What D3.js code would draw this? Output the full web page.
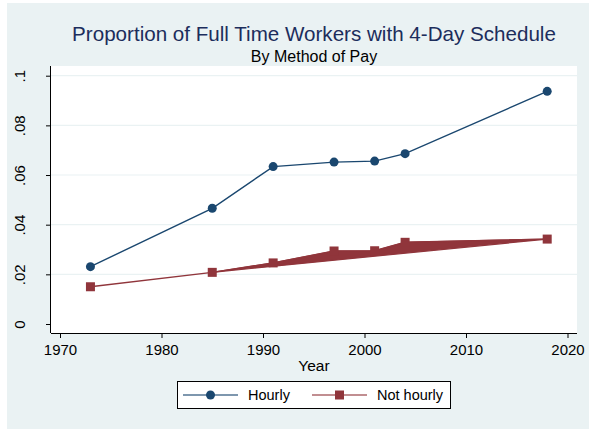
<!DOCTYPE html>
<html>
<head>
<meta charset="utf-8">
<script src="https://cdn.jsdelivr.net/npm/d3@7"></script>
<style>
  body { margin: 0; background: #fff; }
  text { font-family: "Liberation Sans", Arial, sans-serif; }
</style>
</head>
<body>
<svg id="chart"></svg>
<script>
let years = [1973, 1985, 1991, 1997, 2001, 2004, 2018];
let hourly = [0.0231, 0.0466, 0.0634, 0.0652, 0.0656, 0.0686, 0.0937];
let notHourly = [0.0150, 0.0208, 0.0246, 0.0294, 0.0295, 0.0329, 0.0342];
let xTicks = [1970, 1980, 1990, 2000, 2010, 2020];
let yTicks = [0, 0.02, 0.04, 0.06, 0.08, 0.1];
let yTickLabels = ["0", ".02", ".04", ".06", ".08", ".1"];
let seriesNames = ["Hourly", "Not hourly"];

let width = 589;
let height = 429;
let svg = d3.select("#chart").attr("width", width).attr("height", height);

// graph region
svg.append("rect").attr("x", 7).attr("y", 3).attr("width", width - 7).attr("height", height - 3)
  .attr("fill", "#eaf2f3");

let plotL = 51, plotR = 577, plotT = 66, plotB = 333;
svg.append("rect").attr("x", plotL).attr("y", plotT).attr("width", plotR - plotL).attr("height", plotB - plotT)
  .attr("fill", "#ffffff");

let x = d3.scaleLinear().domain([1970, 2020]).range([60, 567.5]);
let y = d3.scaleLinear().domain([0, 0.1]).range([324, 75.7]);

// gridlines
svg.append("g").selectAll("line")
  .data(yTicks.filter(d => d > 0))
  .enter().append("line")
  .attr("x1", plotL).attr("x2", plotR)
  .attr("y1", d => y(d)).attr("y2", d => y(d))
  .attr("stroke", "#eaf2f3").attr("stroke-width", 1.2);

// axes
let xAxis = svg.append("g").attr("transform", "translate(0," + plotB + ")")
  .call(d3.axisBottom(x).tickValues(xTicks).tickFormat(d3.format("d")).tickSize(5).tickSizeOuter(0));
xAxis.select(".domain").attr("d", "M" + plotL + ",0.5H" + plotR).attr("stroke", "#000");
xAxis.selectAll(".tick text").attr("font-size", 15).attr("y", 9).attr("dy", "0.85em").attr("fill", "#000");

let yAxis = svg.append("g").attr("transform", "translate(" + plotL + ",0)")
  .call(d3.axisLeft(y).tickValues(yTicks).tickFormat((d, i) => yTickLabels[i]).tickSize(5).tickSizeOuter(0));
yAxis.select(".domain").attr("d", "M-0.5," + plotT + "V" + plotB).attr("stroke", "#000");
yAxis.selectAll(".tick text")
  .attr("font-size", 15).attr("fill", "#000")
  .attr("x", null).attr("dy", null)
  .attr("text-anchor", "middle")
  .attr("transform", "translate(-26,0) rotate(-90)");

svg.append("text").attr("x", (plotL + plotR) / 2).attr("y", 371)
  .attr("text-anchor", "middle").attr("font-size", 15.5).attr("fill", "#000").text("Year");

// titles
svg.append("text").attr("x", (plotL + plotR) / 2).attr("y", 41)
  .attr("text-anchor", "middle").attr("font-size", 20.6).attr("fill", "#1c2d5c")
  .text("Proportion of Full Time Workers with 4-Day Schedule");
svg.append("text").attr("x", (plotL + plotR) / 2).attr("y", 62)
  .attr("text-anchor", "middle").attr("font-size", 16).attr("fill", "#000")
  .text("By Method of Pay");

let blue = "#1a476f", red = "#90353b";
let line = d3.line().x(d => x(d[0])).y(d => y(d[1]));

let hPts = years.map((yr, i) => [yr, hourly[i]]);
let nPts = years.map((yr, i) => [yr, notHourly[i]]);

// not hourly: filled shape from 1985 onwards (as in the original output)
svg.append("path").datum(nPts.slice(1))
  .attr("d", d => line(d) + "Z")
  .attr("fill", red).attr("stroke", red).attr("stroke-width", 1.2);
svg.append("path").datum(nPts)
  .attr("d", line).attr("fill", "none").attr("stroke", red).attr("stroke-width", 1.4);
svg.append("g").selectAll("rect").data(nPts).enter().append("rect")
  .attr("x", d => x(d[0]) - 4.5).attr("y", d => y(d[1]) - 4.5)
  .attr("width", 9).attr("height", 9).attr("fill", red);

svg.append("path").datum(hPts)
  .attr("d", line).attr("fill", "none").attr("stroke", blue).attr("stroke-width", 1.4);
svg.append("g").selectAll("circle").data(hPts).enter().append("circle")
  .attr("cx", d => x(d[0])).attr("cy", d => y(d[1])).attr("r", 4.5).attr("fill", blue);

// legend
let leg = svg.append("g");
leg.append("rect").attr("x", 177.5).attr("y", 381.5).attr("width", 273).attr("height", 27)
  .attr("fill", "#fff").attr("stroke", "#000").attr("stroke-width", 1);
let legItems = [
  { name: seriesNames[0], color: blue, x0: 183, shape: "circle" },
  { name: seriesNames[1], color: red, x0: 312, shape: "square" }
];
legItems.forEach(function(it) {
  leg.append("line").attr("x1", it.x0).attr("x2", it.x0 + 55).attr("y1", 395).attr("y2", 395)
    .attr("stroke", it.color).attr("stroke-width", 1.4).attr("stroke-opacity", 0.75);
  if (it.shape == "circle")
    leg.append("circle").attr("cx", it.x0 + 27.5).attr("cy", 395).attr("r", 4.5).attr("fill", it.color);
  else
    leg.append("rect").attr("x", it.x0 + 23).attr("y", 390.5).attr("width", 9).attr("height", 9).attr("fill", it.color);
  leg.append("text").attr("x", it.x0 + 65).attr("y", 400).attr("font-size", 14.5).attr("fill", "#000").text(it.name);
});
</script>
</body>
</html>
